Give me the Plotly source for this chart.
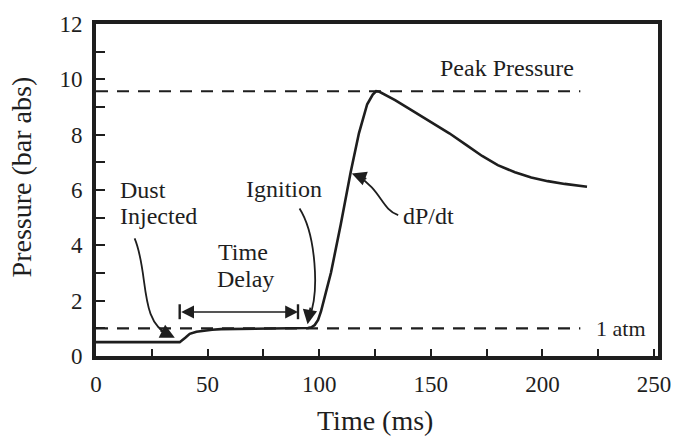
import plotly.graph_objects as go

# ---- data ----
time_ms = [0, 10, 20, 30, 37.5, 40, 42, 45, 48, 52, 56, 65, 75, 85, 92, 95, 96.5,
           98, 99.5, 100.8, 103, 105.3, 109.7, 114.1, 117.8, 121.5, 124, 125.5,
           127, 134, 140.6, 150, 158.3, 166, 173, 180, 187.7, 195, 202.4, 210, 220]
pressure = [0.5, 0.5, 0.5, 0.5, 0.5, 0.66, 0.80, 0.88, 0.92, 0.95, 0.97, 0.98, 0.99,
            0.99, 1.0, 1.01, 1.04, 1.12, 1.3, 1.61, 2.3, 3.02, 4.77, 6.64, 8.05,
            9.1, 9.45, 9.57, 9.55, 9.25, 8.92, 8.46, 8.05, 7.62, 7.23, 6.9, 6.64,
            6.45, 6.32, 6.22, 6.12]
peak_pressure = 9.57
atm_pressure = 1.0
ref_line_x = [0, 217]
delay_start, delay_end = 37.5, 90.5

x_ticks = [0, 50, 100, 150, 200, 250]
y_ticks = [0, 2, 4, 6, 8, 10, 12]

INK = "#1e1e1e"
SERIF = "Liberation Serif"

fig = go.Figure()
fig.add_trace(go.Scatter(x=ref_line_x, y=[peak_pressure, peak_pressure], mode="lines",
                         line=dict(color=INK, width=2.2, dash="12px,9px"), hoverinfo="skip"))
fig.add_trace(go.Scatter(x=ref_line_x, y=[atm_pressure, atm_pressure], mode="lines",
                         line=dict(color=INK, width=2.2, dash="12px,9px"), hoverinfo="skip"))
fig.add_trace(go.Scatter(x=time_ms, y=pressure, mode="lines",
                         line=dict(color=INK, width=2.6), hoverinfo="skip"))

# curved leader lines
curves = [
    "M 17.3,4.25 C 23.9,3.0 19.0,1.2 33.0,0.76",       # Dust injected
    "M 91.2,5.33 C 98.5,4.4 100.2,2.3 95.6,1.40",       # Ignition
    "M 135.4,5.09 C 127.9,5.30 127.9,6.0 117.0,6.52",   # dP/dt
]
for p in curves:
    fig.add_shape(type="path", path=p, xref="x", yref="y",
                  line=dict(color=INK, width=1.8))

# arrowheads
arrow_tips = [(35.3, 0.66, -16, -8), (94.8, 1.15, 3, -18), (114.6, 6.6, 16, 6)]
for x, y, ax, ay in arrow_tips:
    fig.add_annotation(x=x, y=y, ax=ax, ay=ay, text="", showarrow=True,
                       arrowhead=2, arrowsize=1.6, arrowwidth=1.8, arrowcolor=INK)

# time delay double arrow
fig.add_annotation(x=delay_end, y=1.59, ax=delay_start, ay=1.59, axref="x", ayref="y",
                   text="", showarrow=True, arrowhead=2, startarrowhead=2,
                   arrowside="end+start", arrowsize=1.6, startarrowsize=1.6,
                   arrowwidth=1.6, arrowcolor=INK)
for xv in (delay_start, delay_end):
    fig.add_shape(type="line", x0=xv, x1=xv, y0=1.33, y1=1.87, xref="x", yref="y",
                  line=dict(color=INK, width=2.4))

labels = [
    ("Dust", 9.7, 6.0, "left"),
    ("Injected", 9.7, 5.07, "left"),
    ("Time", 65.9, 3.75, "center"),
    ("Delay", 67.0, 2.8, "center"),
    ("Ignition", 84.3, 6.05, "center"),
    ("dP/dt", 149.1, 5.06, "center"),
    ("Peak Pressure", 184.1, 10.42, "center"),
]
for t, x, y, anc in labels:
    fig.add_annotation(x=x, y=y, text=t, showarrow=False, xanchor=anc, yanchor="middle",
                       font=dict(family=SERIF, size=24, color=INK))
fig.add_annotation(x=235.2, y=0.98, text="1 atm", showarrow=False, xanchor="center",
                   yanchor="middle", font=dict(family=SERIF, size=22, color=INK))

# axis titles
fig.add_annotation(xref="paper", yref="paper", x=0, y=0.538, xshift=-75,
                   text="Pressure (bar abs)", textangle=-90, showarrow=False,
                   xanchor="center", yanchor="middle",
                   font=dict(family=SERIF, size=28, color=INK))
fig.add_annotation(xref="paper", yref="paper", x=0.497, y=0, yshift=-64,
                   text="Time (ms)", showarrow=False, xanchor="center", yanchor="middle",
                   font=dict(family=SERIF, size=28, color=INK))

axis_common = dict(showline=True, linewidth=4, linecolor=INK, mirror=True,
                   ticks="inside", tickwidth=2, tickcolor=INK, showgrid=False,
                   zeroline=False, tickfont=dict(family=SERIF, size=23, color=INK))
fig.update_xaxes(range=[0, 251.8], tickvals=x_ticks, ticklen=7,
                 minor=dict(ticks="inside", dtick=25, tick0=0, ticklen=7, tickwidth=2,
                            tickcolor=INK, showgrid=False),
                 ticklabelstandoff=4, **axis_common)
fig.update_yaxes(range=[0, 12], tickvals=y_ticks, ticklen=9,
                 minor=dict(ticks="inside", dtick=1, tick0=0, ticklen=9, tickwidth=2,
                            tickcolor=INK, showgrid=False),
                 ticklabelstandoff=5, **axis_common)

fig.update_layout(width=683, height=440, margin=dict(l=96, r=18, t=14, b=84),
                  plot_bgcolor="white", paper_bgcolor="white", showlegend=False,
                  font=dict(family=SERIF, color=INK))

fig.write_html("out.html")
